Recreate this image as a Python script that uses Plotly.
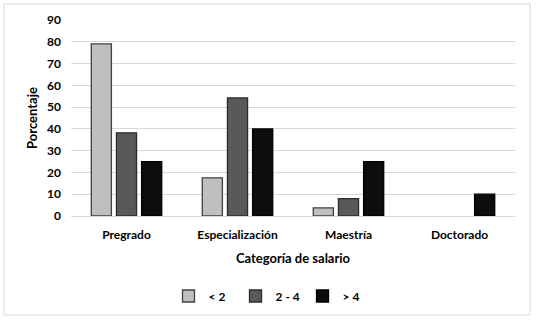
import plotly.graph_objects as go

categories = ["Pregrado", "Especialización", "Maestría", "Doctorado"]
series_names = ["< 2", "2 - 4", "> 4"]
vals_lt2 = [79, 17.5, 3.7, 0]
vals_2_4 = [38.2, 54.2, 8, 0]
vals_gt4 = [25, 40, 25, 10]
y_ticks = [0, 10, 20, 30, 40, 50, 60, 70, 80, 90]

fills = ["#BFBFBF", "#595959", "#0D0D0D"]
lines = ["#404040", "#2B2B2B", "#000000"]
FONT = "Lato"

fig = go.Figure()
for name, vals, fc, lc in zip(series_names, [vals_lt2, vals_2_4, vals_gt4], fills, lines):
    fig.add_trace(go.Bar(
        x=categories, y=vals, name=name,
        marker=dict(color=fc, line=dict(color=lc, width=[1.3 if v else 0 for v in vals])),
    ))

W, H = 540, 323
L, R, T, B = 71, 25, 20, 107
pw, ph = W - L - R, H - T - B

def px_to_paper(x, y):
    return (x - L) / pw, (H - B - y) / ph

x0, y0 = px_to_paper(4, 4)
x1, y1 = px_to_paper(530, 315)

fig.update_layout(
    width=W, height=H,
    margin=dict(l=L, r=R, t=T, b=B),
    paper_bgcolor="white", plot_bgcolor="white",
    barmode="group", bargap=0.32, bargroupgap=0.2,
    font=dict(family=FONT, color="#000000", size=12),
    xaxis=dict(
        showgrid=False, showline=True, linecolor="#D9D9D9", linewidth=1,
        ticks="", ticklabelstandoff=8, tickfont=dict(family=FONT, size=12, weight="bold"),
        title=dict(text="Categoría de salario", font=dict(family=FONT, size=13, weight="bold"), standoff=12),
    ),
    yaxis=dict(
        range=[0, 90], tickvals=y_ticks, showgrid=True, gridcolor="#D9D9D9", gridwidth=1,
        zeroline=False, ticks="", ticklabelstandoff=9, tickfont=dict(family=FONT, size=12, weight="bold"),
        title=dict(text="Porcentaje", font=dict(family=FONT, size=13, weight="bold"), standoff=6),
    ),
    legend=dict(
        orientation="h", x=(269 - L) / pw, xanchor="center",
        y=(H - B - 296) / ph, yanchor="middle",
        font=dict(family=FONT, size=12, weight="bold"),
        itemwidth=30, entrywidth=22, traceorder="normal",
    ),
    shapes=[dict(type="rect", xref="paper", yref="paper", x0=x0, y0=y0, x1=x1, y1=y1,
                 line=dict(color="#D9D9D9", width=1), layer="below")],
)

fig.write_html("out.html")
